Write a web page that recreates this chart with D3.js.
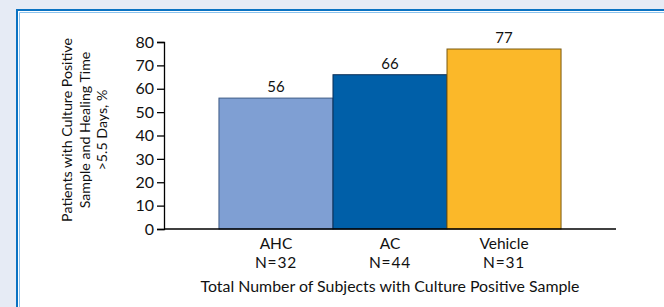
<!DOCTYPE html>
<html>
<head>
<meta charset="utf-8">
<script src="https://cdn.jsdelivr.net/npm/d3@7"></script>
<style>
  html, body { margin: 0; padding: 0; background: #e6ebf5; }
  svg { display: block; }
  text { font-family: "Lato", "DejaVu Sans", sans-serif; fill: #111; }
</style>
</head>
<body>
<svg width="664" height="307"></svg>
<script>
let groups = ['AHC', 'AC', 'Vehicle'];
let counts = ['N=32', 'N=44', 'N=31'];
let values = [56, 66, 77];
let colors = ['#7f9fd3', '#005fa8', '#fbb829'];
let edges = ['#3d5a85', '#0b2f55', '#7a5a10'];
let yTicks = [0, 10, 20, 30, 40, 50, 60, 70, 80];
let yTitle = ['Patients with Culture Positive', 'Sample and Healing Time', '>5.5 Days, %'];
let xTitle = 'Total Number of Subjects with Culture Positive Sample';

let svg = d3.select('svg');

// panel
svg.append('rect')
    .attr('x', 17).attr('y', 10)
    .attr('width', 700).attr('height', 320)
    .attr('fill', '#fff')
    .attr('stroke', '#0a72c2')
    .attr('stroke-width', 2);
svg.append('path')
    .attr('d', 'M19.5,330V12.5H700')
    .attr('fill', 'none')
    .attr('stroke', '#8cc3ee')
    .attr('stroke-width', 1);

let x0 = 164, x1 = 616, yBase = 229, yTop = 42;

let x = d3.scaleBand()
    .domain(groups)
    .range([x0, x1])
    .paddingInner(0)
    .paddingOuter(0.482);

let y = d3.scaleLinear()
    .domain([0, 80])
    .range([yBase, yTop]);

// bars
svg.append('g').selectAll('rect')
    .data(groups)
    .enter().append('rect')
    .attr('x', d => x(d))
    .attr('y', (d, i) => y(values[i]))
    .attr('width', x.bandwidth())
    .attr('height', (d, i) => y(0) - y(values[i]))
    .attr('fill', (d, i) => colors[i])
    .attr('stroke', (d, i) => edges[i])
    .attr('stroke-width', 1);

// value labels
svg.append('g').selectAll('text')
    .data(groups)
    .enter().append('text')
    .attr('x', d => x(d) + x.bandwidth() / 2)
    .attr('y', (d, i) => y(values[i]) - 6)
    .attr('text-anchor', 'middle')
    .attr('font-size', 15)
    .text((d, i) => values[i]);

// y axis
let yAxis = d3.axisLeft(y).tickValues(yTicks).tickSize(7).tickPadding(3);
let gy = svg.append('g')
    .attr('transform', `translate(${x0},0)`)
    .call(yAxis);
gy.select('.domain').attr('stroke', '#000').attr('stroke-width', 1.3);
gy.selectAll('.tick line').attr('stroke', '#000').attr('stroke-width', 1.3);
gy.selectAll('.tick text')
    .attr('font-size', 16)
    .attr('font-family', '"Lato", sans-serif')
    .attr('fill', '#111');

// x baseline
svg.append('line')
    .attr('x1', x0).attr('x2', x1)
    .attr('y1', yBase).attr('y2', yBase)
    .attr('stroke', '#000')
    .attr('stroke-width', 1.6);

// category labels
let cat = svg.append('g').selectAll('text')
    .data(groups)
    .enter().append('text')
    .attr('x', d => x(d) + x.bandwidth() / 2)
    .attr('y', 249)
    .attr('text-anchor', 'middle')
    .attr('font-size', 15.5);
cat.append('tspan').text(d => d);
cat.append('tspan')
    .attr('x', d => x(d) + x.bandwidth() / 2)
    .attr('dy', 19)
    .attr('letter-spacing', 0.8)
    .text((d, i) => counts[i]);

// x title
svg.append('text')
    .attr('x', (x0 + x1) / 2)
    .attr('y', 292)
    .attr('text-anchor', 'middle')
    .attr('font-size', 15.9)
    .text(xTitle);

// y title
let yt = svg.append('text')
    .attr('transform', 'translate(72,130) rotate(-90)')
    .attr('text-anchor', 'middle')
    .attr('font-size', 14.2);
yTitle.forEach((t, i) => {
    yt.append('tspan')
        .attr('x', 0)
        .attr('y', i * 17.5)
        .text(t);
});
</script>
</body>
</html>
